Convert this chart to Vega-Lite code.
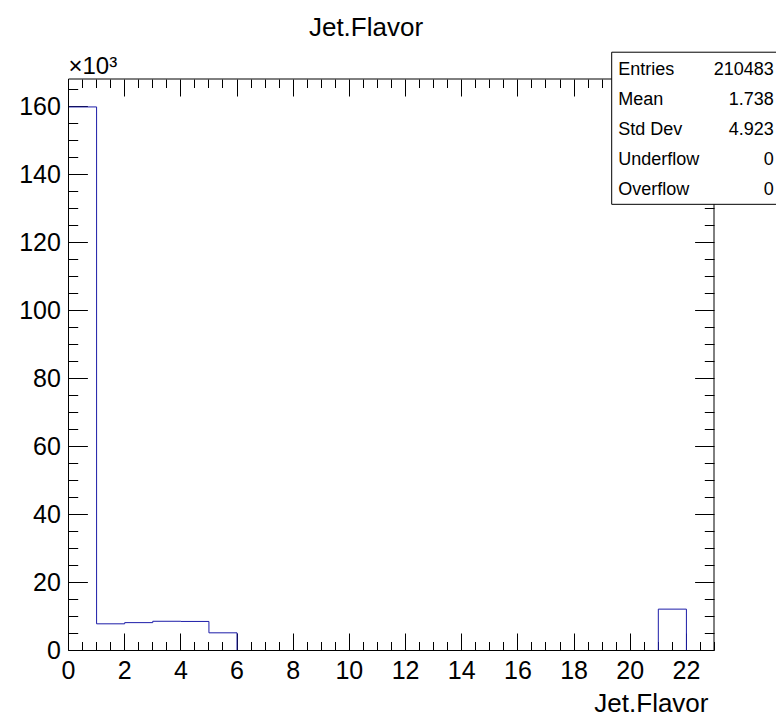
{
  "$schema": "https://vega.github.io/schema/vega-lite/v6.json",
  "width": 646,
  "height": 571,
  "autosize": {"type": "none"},
  "padding": {"left": 68, "top": 79, "right": 62, "bottom": 67},
  "background": "white",
  "config": {"view": {"stroke": null}},
  "title": {"text": "Jet.Flavor", "font": "Liberation Sans", "fontSize": 26, "fontWeight": "normal", "color": "black", "anchor": "middle", "frame": "group", "baseline": "alphabetic", "offset": 17, "dx": -25, "dy": 27},
  "datasets": {
    "hist": [
      {"bin_start": 0, "count": 159930},
      {"bin_start": 1, "count": 7850},
      {"bin_start": 2, "count": 8200},
      {"bin_start": 3, "count": 8600},
      {"bin_start": 4, "count": 8550},
      {"bin_start": 5, "count": 5200},
      {"bin_start": 6, "count": 0},
      {"bin_start": 7, "count": 0},
      {"bin_start": 8, "count": 0},
      {"bin_start": 9, "count": 0},
      {"bin_start": 10, "count": 0},
      {"bin_start": 11, "count": 0},
      {"bin_start": 12, "count": 0},
      {"bin_start": 13, "count": 0},
      {"bin_start": 14, "count": 0},
      {"bin_start": 15, "count": 0},
      {"bin_start": 16, "count": 0},
      {"bin_start": 17, "count": 0},
      {"bin_start": 18, "count": 0},
      {"bin_start": 19, "count": 0},
      {"bin_start": 20, "count": 0},
      {"bin_start": 21, "count": 12170},
      {"bin_start": 22, "count": 0}
    ],
    "stats": [
      {"stat": "Entries", "value": "210483"},
      {"stat": "Mean", "value": "1.738"},
      {"stat": "Std Dev", "value": "4.923"},
      {"stat": "Underflow", "value": "0"},
      {"stat": "Overflow", "value": "0"}
    ]
  },
  "resolve": {"scale": {"y": "independent"}, "axis": {"x": "independent", "y": "independent"}},
  "layer": [
    {
      "data": {"name": "hist"},
      "mark": {"type": "line", "interpolate": "step-after", "color": "#1c1ca8", "strokeWidth": 1, "xOffset": 0.5, "yOffset": 0.5},
      "encoding": {
        "x": {
          "field": "bin_start", "type": "quantitative",
          "scale": {"domain": [0, 23], "nice": false, "zero": false},
          "axis": {
            "orient": "bottom", "zindex": 0,
            "values": [0,0.5,1,1.5,2,2.5,3,3.5,4,4.5,5,5.5,6,6.5,7,7.5,8,8.5,9,9.5,10,10.5,11,11.5,12,12.5,13,13.5,14,14.5,15,15.5,16,16.5,17,17.5,18,18.5,19,19.5,20,20.5,21,21.5,22,22.5,23],
            "tickSize": {"condition": {"test": "datum.value % 2 === 0", "value": -17}, "value": -8.5},
            "tickColor": "black", "tickWidth": 1,
            "labelExpr": "datum.value % 2 === 0 ? format(datum.value, 'd') : ''",
            "labelPadding": 25, "labelFont": "Liberation Sans", "labelFontSize": 25, "labelColor": "black",
            "labelFlush": false, "labelOverlap": false, "labelBound": false,
            "domain": false, "grid": false,
            "title": "Jet.Flavor", "titleFont": "Liberation Sans", "titleFontSize": 26, "titleFontWeight": "normal", "titleColor": "black",
            "titleAnchor": "end", "titleAlign": "right", "titleBaseline": "alphabetic", "titleX": 640, "titleY": 61
          }
        },
        "y": {
          "field": "count", "type": "quantitative",
          "scale": {"domain": [0, 168000], "nice": false},
          "axis": {
            "orient": "left", "zindex": 0,
            "values": [0,5000,10000,15000,20000,25000,30000,35000,40000,45000,50000,55000,60000,65000,70000,75000,80000,85000,90000,95000,100000,105000,110000,115000,120000,125000,130000,135000,140000,145000,150000,155000,160000,165000],
            "tickSize": {"condition": {"test": "datum.value % 20000 === 0", "value": -19.4}, "value": -9.7},
            "tickColor": "black", "tickWidth": 1,
            "labelExpr": "datum.value % 20000 === 0 ? format(datum.value / 1000, 'd') : ''",
            "labelPadding": 27, "labelFont": "Liberation Sans", "labelFontSize": 25, "labelColor": "black",
            "labelFlush": false, "labelOverlap": false, "labelBound": false,
            "domain": false, "grid": false,
            "title": "×10³", "titleFont": "Liberation Sans", "titleFontSize": 24, "titleFontWeight": "normal", "titleColor": "black",
            "titleAngle": 0, "titleAlign": "left", "titleBaseline": "alphabetic", "titleX": 0, "titleY": -6
          }
        }
      }
    },
    {
      "data": {"values": [{"frame": "plot"}]},
      "mark": {"type": "rect", "fill": "white", "fillOpacity": 0, "stroke": "black", "strokeWidth": 1, "xOffset": 0.5, "yOffset": 0.5},
      "encoding": {
        "x": {
          "datum": 0, "type": "quantitative",
          "axis": {
            "orient": "top", "zindex": 0,
            "values": [0,0.5,1,1.5,2,2.5,3,3.5,4,4.5,5,5.5,6,6.5,7,7.5,8,8.5,9,9.5,10,10.5,11,11.5,12,12.5,13,13.5,14,14.5,15,15.5,16,16.5,17,17.5,18,18.5,19,19.5,20,20.5,21,21.5,22,22.5,23],
            "tickSize": {"condition": {"test": "datum.value % 2 === 0", "value": -17}, "value": -8.5},
            "tickColor": "black", "tickWidth": 1,
            "labels": false, "domain": false, "grid": false, "title": null
          }
        },
        "x2": {"datum": 23},
        "y": {
          "datum": 0, "type": "quantitative",
          "scale": {"domain": [0, 168000], "nice": false},
          "axis": {
            "orient": "right", "zindex": 0,
            "values": [0,5000,10000,15000,20000,25000,30000,35000,40000,45000,50000,55000,60000,65000,70000,75000,80000,85000,90000,95000,100000,105000,110000,115000,120000,125000,130000,135000,140000,145000,150000,155000,160000,165000],
            "tickSize": {"condition": {"test": "datum.value % 20000 === 0", "value": -19.4}, "value": -9.7},
            "tickColor": "black", "tickWidth": 1,
            "labels": false, "domain": false, "grid": false, "title": null
          }
        },
        "y2": {"datum": 168000}
      }
    },
    {
      "data": {"values": [{"box": "stats"}]},
      "mark": {"type": "rect", "fill": "white", "stroke": "black", "strokeWidth": 1, "xOffset": 0.5, "yOffset": 0.5},
      "encoding": {
        "x": {"datum": 19.34, "type": "quantitative", "axis": null},
        "x2": {"datum": 25.4},
        "y": {"datum": 176030, "type": "quantitative", "scale": {"domain": [0, 168000], "nice": false}, "axis": null},
        "y2": {"datum": 131130}
      }
    },
    {
      "data": {"name": "stats"},
      "encoding": {
        "y": {"field": "stat", "type": "nominal", "scale": {"type": "point", "domain": ["Entries", "Mean", "Std Dev", "Underflow", "Overflow"], "range": [-9, 111], "padding": 0}, "axis": null}
      },
      "layer": [
        {
          "mark": {"type": "text", "align": "left", "baseline": "middle", "font": "Liberation Sans", "fontSize": 18, "color": "black"},
          "encoding": {"x": {"datum": 19.59, "type": "quantitative", "axis": null}, "text": {"field": "stat"}}
        },
        {
          "mark": {"type": "text", "align": "right", "baseline": "middle", "font": "Liberation Sans", "fontSize": 18, "color": "black"},
          "encoding": {"x": {"datum": 25.13, "type": "quantitative", "axis": null}, "text": {"field": "value"}}
        }
      ]
    }
  ]
}
